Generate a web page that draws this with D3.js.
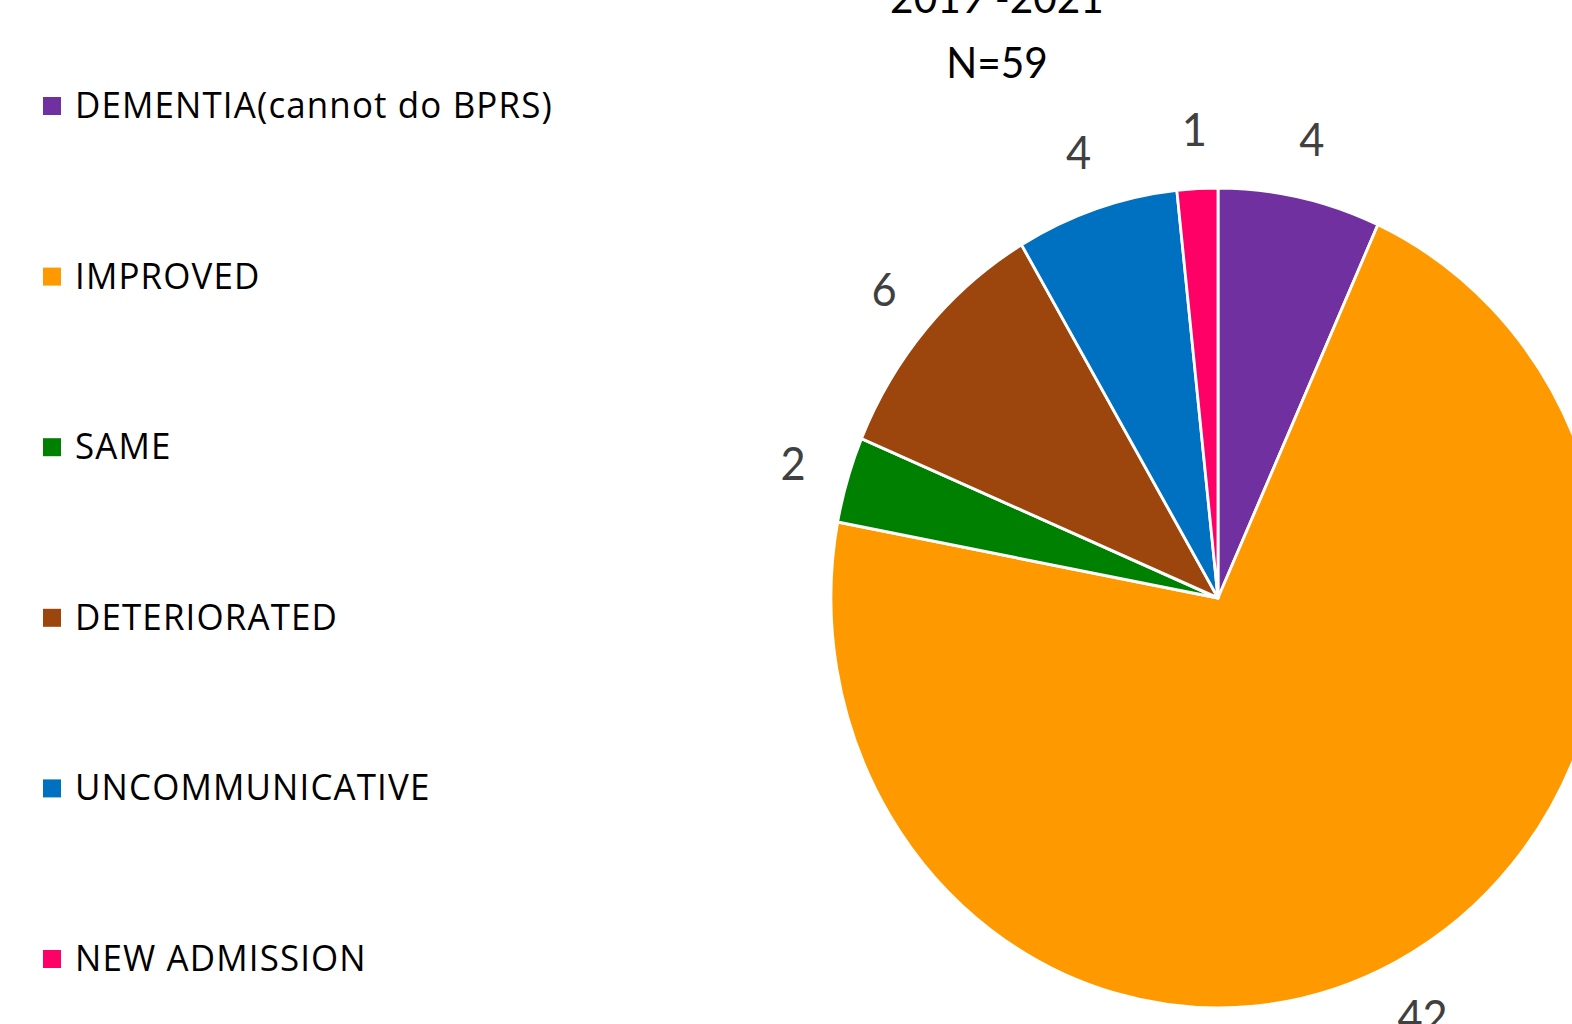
<!DOCTYPE html>
<html>
<head>
<meta charset="utf-8">
<script src="https://cdn.jsdelivr.net/npm/d3@7"></script>
<style>
  html, body { margin: 0; padding: 0; background: #fff; overflow: hidden; }
  text { font-family: Lato, "Open Sans", sans-serif; }
  .legend text { font-family: "Open Sans", Lato, sans-serif; }
</style>
</head>
<body>
<div id="chart"></div>
<script>
/***********************************************************************/
//Data
/***********************************************************************/
const categories = ['DEMENTIA(cannot do BPRS)', 'IMPROVED', 'SAME', 'DETERIORATED', 'UNCOMMUNICATIVE', 'NEW ADMISSION']
const counts = [4, 42, 2, 6, 4, 1]
const colors = ['#7030a0', '#ff9900', '#008000', '#9c460d', '#0070c0', '#ff0066']
const titleLines = ['2019 -2021', 'N=59']

const data = categories.map((name, i) => ({ name, value: counts[i], color: colors[i] }))

/***********************************************************************/
//Plot Area
/***********************************************************************/
const width = 1572
const height = 1024
const squeeze = 0.944   // the original picture is a bit narrower than tall

const svg = d3.select('#chart')
  .append('svg')
  .attr('width', width)
  .attr('height', height)

const root = svg.append('g')
  .attr('transform', `scale(${squeeze},1)`)

const cx = 1218 / squeeze
const cy = 598
const radius = 410
const labelRadius = 470

/***********************************************************************/
//Title
/***********************************************************************/
root.append('g')
  .selectAll('text')
  .data(titleLines)
  .join('text')
  .attr('x', 997 / squeeze)
  .attr('y', (d, i) => 13 + i * 65)
  .attr('text-anchor', 'middle')
  .attr('font-size', 43)
  .attr('fill', '#000')
  .text(d => d)

/***********************************************************************/
//Pie
/***********************************************************************/
const pie = d3.pie()
  .value(d => d.value)
  .sort(null)

const arc = d3.arc()
  .innerRadius(0)
  .outerRadius(radius)

const labelArc = d3.arc()
  .innerRadius(labelRadius)
  .outerRadius(labelRadius)

const g = root.append('g')
  .attr('transform', `translate(${cx},${cy})`)

const arcs = pie(data)

g.selectAll('path')
  .data(arcs)
  .join('path')
  .attr('d', arc)
  .attr('fill', d => d.data.color)
  .attr('stroke', '#fff')
  .attr('stroke-width', 3)
  .attr('stroke-linejoin', 'round')

g.selectAll('.slice-label')
  .data(arcs)
  .join('text')
  .attr('class', 'slice-label')
  .attr('transform', d => `translate(${labelArc.centroid(d)})`)
  .attr('text-anchor', 'middle')
  .attr('dominant-baseline', 'central')
  .attr('font-size', 46)
  .attr('fill', '#404040')
  .text(d => d.data.value)

/***********************************************************************/
//Legend
/***********************************************************************/
const legend = root.append('g')
  .attr('class', 'legend')

const rowY = d3.scalePoint()
  .domain(categories)
  .range([106, 959])

const item = legend.selectAll('g')
  .data(data)
  .join('g')
  .attr('transform', d => `translate(0,${rowY(d.name)})`)

item.append('rect')
  .attr('x', 43 / squeeze)
  .attr('y', -9)
  .attr('width', 18 / squeeze)
  .attr('height', 18)
  .attr('fill', d => d.color)

item.append('text')
  .attr('x', 75 / squeeze)
  .attr('y', 12)
  .attr('font-size', 37)
  .attr('letter-spacing', 1.2)
  .attr('fill', '#000')
  .text(d => d.name)
</script>
</body>
</html>
